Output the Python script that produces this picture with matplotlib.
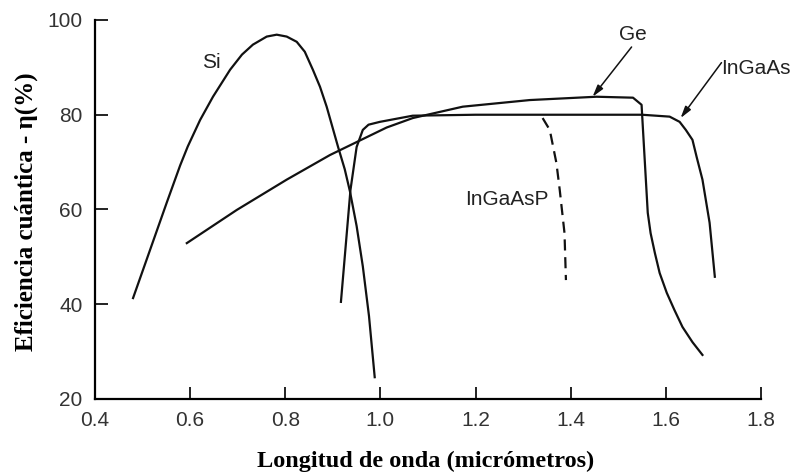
import matplotlib
matplotlib.use("Agg")
import matplotlib.pyplot as plt

# curves (wavelength in um, efficiency in %)
si_x = [0.48, 0.551, 0.579, 0.595, 0.621, 0.648, 0.684, 0.709, 0.732, 0.761, 0.782,
        0.803, 0.824, 0.841, 0.858, 0.873, 0.887, 0.911, 0.925, 0.936, 0.95,
        0.963, 0.976, 0.988]
si_y = [41.3, 61.5, 69.3, 73.3, 78.9, 83.8, 89.5, 92.7, 94.8, 96.5, 96.9,
        96.5, 95.4, 93.3, 89.5, 85.9, 81.7, 73.2, 68.5, 63.8, 56.5,
        48.0, 37.5, 24.6]

ge_x = [0.593, 0.698, 0.803, 0.894, 1.013, 1.068, 1.173, 1.314, 1.454, 1.531,
        1.549, 1.552, 1.556, 1.562, 1.568, 1.577, 1.587, 1.602, 1.618, 1.635,
        1.656, 1.677]
ge_y = [52.9, 59.9, 66.3, 71.5, 77.3, 79.3, 81.7, 83.1, 83.8, 83.6,
        82.1, 76.8, 69.8, 59.3, 55.0, 50.8, 46.6, 42.4, 38.8, 35.2,
        32.0, 29.3]

ingaas_x = [0.917, 0.937, 0.95, 0.963, 0.975, 0.999, 1.068, 1.2, 1.4, 1.55, 1.608,
            1.629, 1.642, 1.656, 1.665, 1.677, 1.692, 1.703]
ingaas_y = [40.5, 64.1, 73.2, 76.8, 77.9, 78.5, 79.8, 80.0, 80.0, 80.0, 79.6,
            78.5, 76.8, 74.7, 71.0, 66.3, 57.2, 45.8]

ingaasp_x = [1.341, 1.356, 1.37, 1.377, 1.387, 1.39]
ingaasp_y = [79.3, 76.8, 69.8, 64.1, 55.0, 45.1]

xticks = [0.4, 0.6, 0.8, 1.0, 1.2, 1.4, 1.6, 1.8]
yticks = [20, 40, 60, 80, 100]

fig = plt.figure(figsize=(7.99, 4.76), dpi=100)
ax = fig.add_axes([0.1189, 0.1618, 0.8335, 0.7962])

lw = 1.6
ax.plot(si_x, si_y, color='#111111', lw=lw, solid_joinstyle='round')
ax.plot(ge_x, ge_y, color='#111111', lw=lw, solid_joinstyle='round')
ax.plot(ingaas_x, ingaas_y, color='#111111', lw=lw, solid_joinstyle='round')
ax.plot(ingaasp_x, ingaasp_y, color='#111111', lw=lw, dashes=(5, 3))

lab = dict(fontsize=15, color='#222222', family='Liberation Sans')
ax.text(0.644, 91.1, 'Si', ha='center', va='center', **lab)
ax.text(1.530, 97.0, 'Ge', ha='center', va='center', **lab)
ax.text(1.717, 89.8, 'InGaAs', ha='left', va='center', **lab)
ax.text(1.265, 62.1, 'InGaAsP', ha='center', va='center', **lab)

arr = dict(arrowstyle='-|>,head_length=0.7,head_width=0.2', color='#111111', lw=1.1,
           shrinkA=0, shrinkB=0)
ax.annotate('', xy=(1.446, 83.8), xytext=(1.528, 94.3), arrowprops=arr)
ax.annotate('', xy=(1.631, 79.3), xytext=(1.717, 91.0), arrowprops=arr)

ax.set_xlim(0.4, 1.8)
ax.set_ylim(20, 100)
ax.set_xticks(xticks)
ax.set_xticklabels([f'{v:.1f}' for v in xticks])
ax.set_yticks(yticks)
ax.spines['top'].set_visible(False)
ax.spines['right'].set_visible(False)
for s in ('left', 'bottom'):
    ax.spines[s].set_linewidth(1.6)
ax.tick_params(direction='in', length=9, width=1.3, labelsize=15,
               labelcolor='#333333', colors='#111111')
ax.tick_params(axis='x', pad=9)
ax.tick_params(axis='y', pad=9)
for t in ax.get_xticklabels() + ax.get_yticklabels():
    t.set_family('Liberation Sans')
    t.set_color('#333333')

ax.set_xlabel('Longitud de onda (micrómetros)', family='Liberation Serif',
              fontweight='bold', fontsize=17.5)
ax.xaxis.set_label_coords(0.497, -0.138)
ax.set_ylabel('Eficiencia cuántica - η(%)', family='Liberation Serif',
              fontweight='bold', fontsize=18)
ax.yaxis.set_label_coords(-0.086, 0.495)

fig.savefig('out.png', dpi=100)
